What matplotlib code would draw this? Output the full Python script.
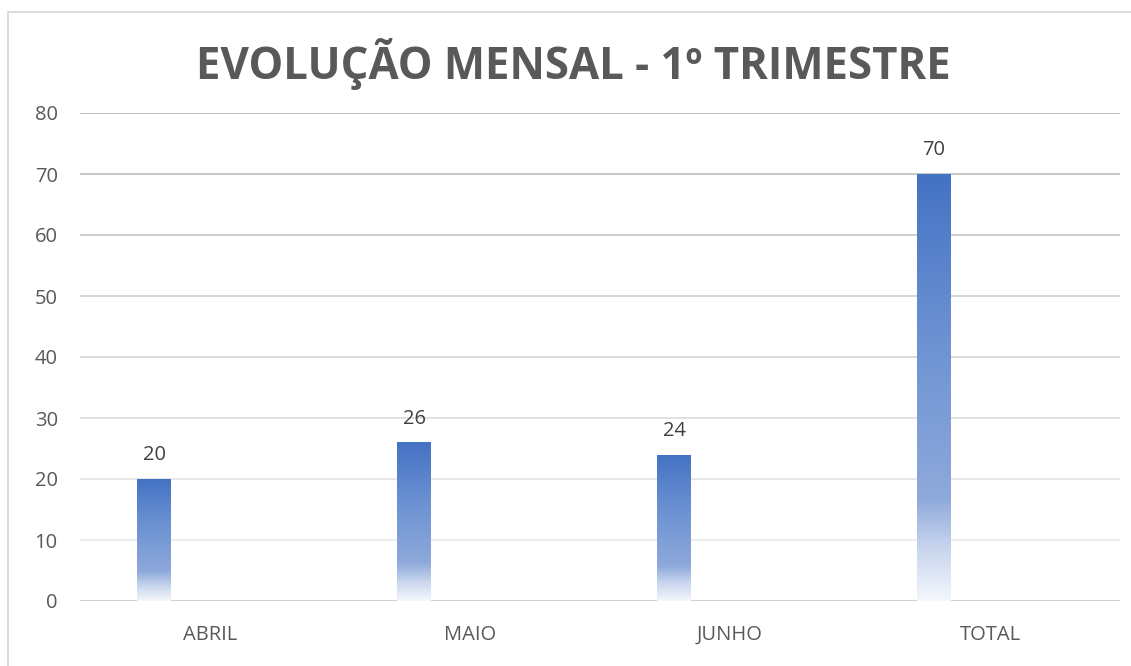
import numpy as np
import matplotlib
matplotlib.use('Agg')
import matplotlib.pyplot as plt
import matplotlib.patches as patches
from matplotlib.colors import LinearSegmentedColormap

# data
categories = ['ABRIL', 'MAIO', 'JUNHO', 'TOTAL']
values = [20, 26, 24, 70]
y_ticks = [0, 10, 20, 30, 40, 50, 60, 70, 80]
title = 'EVOLUÇÃO MENSAL - 1º TRIMESTRE'

W, H = 1131, 666
FONT = 'Open Sans'
TXT = '#595959'

fig = plt.figure(figsize=(W / 100, H / 100), dpi=100)
fig.patch.set_facecolor('white')

# chart area frame
fig.add_artist(patches.Rectangle((8 / W, -0.01), 1.1, 1 - 12 / H + 0.01,
                                 transform=fig.transFigure, fill=False,
                                 edgecolor='#d9d9d9', lw=1.3))

ax = fig.add_axes([80 / W, 1 - 601 / H, 1040 / W, 488 / H])
for s in ax.spines.values():
    s.set_visible(False)

# gridlines fade from top to bottom
top_c = np.array([0.74, 0.74, 0.74])
bot_c = np.array([0.95, 0.95, 0.95])
for t in y_ticks[1:]:
    f = t / 80
    ax.axhline(t, color=bot_c + (top_c - bot_c) * f, lw=1.3, zorder=0)
ax.axhline(0, color='#d0d0d0', lw=1.5, zorder=1)

# gradient bars (bottom light -> top blue)
cmap = LinearSegmentedColormap.from_list('grad', [
    (0.0, '#f4f7fc'), (0.12, '#c9d6ee'), (0.24, '#8ea9db'),
    (0.6, '#6e93d3'), (1.0, '#4472c4')])
grad = np.linspace(0, 1, 256).reshape(-1, 1)
x = np.arange(len(categories))
bars = ax.bar(x - 0.215, values, width=0.13, facecolor='none',
              edgecolor='none', zorder=2)
for b, v in zip(bars, values):
    x0 = b.get_x()
    im = ax.imshow(grad, cmap=cmap, aspect='auto', origin='lower',
                   extent=[x0, x0 + b.get_width(), 0, v], zorder=2)
    im.set_clip_path(b)
    ax.annotate(str(v), (x0 + b.get_width() / 2, v), xytext=(0, 10),
                textcoords='offset points', ha='center', va='bottom',
                fontsize=14.5, color='#404040', family=FONT)

ax.set_xlim(-0.5, len(categories) - 0.5)
ax.set_ylim(0, 80)
ax.set_xticks(x)
ax.set_xticklabels(categories, fontsize=14.5, color=TXT, family=FONT)
ax.set_yticks(y_ticks)
ax.set_yticklabels([str(t) for t in y_ticks], fontsize=14.5, color=TXT,
                   family=FONT)
ax.tick_params(length=0, axis='y', pad=16)
ax.tick_params(length=0, axis='x', pad=17)

fig.text(573 / W, 1 - 64 / H, title, ha='center', va='center',
         fontsize=31.5, fontweight='bold', color=TXT, family=FONT)

fig.savefig('out.png', dpi=100)
